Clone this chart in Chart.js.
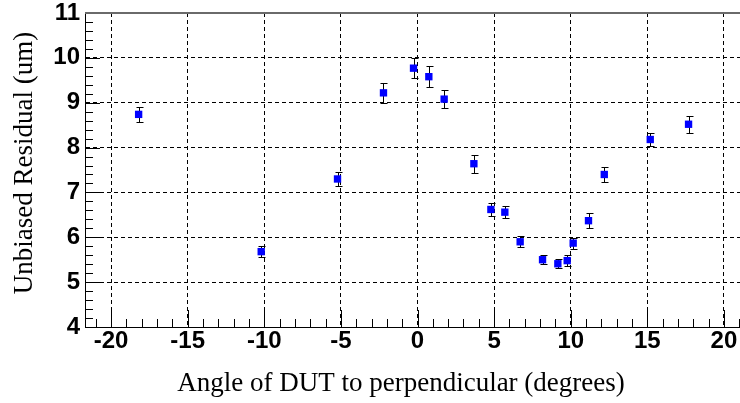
<!DOCTYPE html>
<html><head><meta charset="utf-8">
<script src="https://cdn.jsdelivr.net/npm/chart.js@4"></script>
<style>html,body{margin:0;padding:0;overflow:hidden;background:#fff;width:740px;height:403px}canvas{display:block}</style>
</head><body><canvas id="c" width="750" height="403"></canvas>
<script>
const angles    = [-18.2, -10.2, -5.22, -2.22, -0.26, 0.74, 1.74, 3.68, 4.79, 5.70, 6.70, 8.16, 9.16, 9.77, 10.16, 11.16, 12.19, 15.19, 17.69];
const residuals = [8.74, 5.68, 7.30, 9.22, 9.77, 9.58, 9.08, 7.64, 6.62, 6.56, 5.90, 5.50, 5.41, 5.48, 5.87, 6.37, 7.40, 8.18, 8.52];
const errors    = [0.17, 0.12, 0.16, 0.22, 0.23, 0.23, 0.20, 0.20, 0.14, 0.13, 0.12, 0.10, 0.10, 0.12, 0.12, 0.17, 0.16, 0.15, 0.19];
const xTicks = [-20, -15, -10, -5, 0, 5, 10, 15, 20];
const yTicks = [4, 5, 6, 7, 8, 9, 10, 11];
const xTitle = "Angle of DUT to perpendicular (degrees)";
const yTitle = "Unbiased Residual (um)";

const tickFont = {family: "'Liberation Sans', Arial, sans-serif", size: 24, weight: 'bold'};
const titleFont = "27px 'Liberation Serif', 'Times New Roman', serif";

const framePlugin = {
  id: 'frame',
  beforeDatasetsDraw(chart) {
    const {ctx, scales: {x, y}} = chart;
    ctx.save();
    ctx.strokeStyle = '#000';
    ctx.lineWidth = 1;
    angles.forEach((a, i) => {
      const px = Math.round(x.getPixelForValue(a)) + 0.5;
      const y1 = Math.round(y.getPixelForValue(residuals[i] - errors[i])) + 0.5;
      const y2 = Math.round(y.getPixelForValue(residuals[i] + errors[i])) + 0.5;
      ctx.beginPath();
      ctx.moveTo(px, y1); ctx.lineTo(px, y2);
      ctx.moveTo(px - 3, y1); ctx.lineTo(px + 4, y1);
      ctx.moveTo(px - 3, y2); ctx.lineTo(px + 4, y2);
      ctx.stroke();
    });
    ctx.restore();
  },
  afterDraw(chart) {
    const {ctx, chartArea: a, scales: {x, y}} = chart;
    ctx.save();
    ctx.strokeStyle = '#000';
    ctx.lineWidth = 1;
    ctx.beginPath();
    for (let v = -21; v <= 21; v++) {
      const px = Math.round(x.getPixelForValue(v)) + 0.5;
      const len = (v % 5 === 0) ? 17 : 8;
      ctx.moveTo(px, a.bottom); ctx.lineTo(px, a.bottom - len);
    }
    for (let k = 20; k <= 55; k++) {
      const py = Math.round(y.getPixelForValue(k / 5)) + 0.5;
      const len = (k % 5 === 0) ? 15 : 8;
      ctx.moveTo(a.left, py); ctx.lineTo(a.left + len, py);
    }
    ctx.stroke();
    ctx.strokeStyle = '#6a6a6a';
    ctx.lineWidth = 2;
    ctx.beginPath();
    ctx.moveTo(a.left, a.top); ctx.lineTo(a.right, a.top);
    ctx.stroke();
    ctx.fillStyle = '#000';
    ctx.font = titleFont;
    ctx.textAlign = 'center';
    ctx.textBaseline = 'middle';
    ctx.fillText(xTitle, 401, 384);
    ctx.translate(25, 163);
    ctx.rotate(-Math.PI / 2);
    ctx.fillText(yTitle, 0, 0);
    ctx.restore();
  }
};

new Chart(document.getElementById('c'), {
  type: 'scatter',
  data: {
    datasets: [{
      data: angles.map((a, i) => ({x: a, y: residuals[i]})),
      pointStyle: 'rect',
      radius: 5.2,
      backgroundColor: '#0000ff',
      borderColor: '#0000ff',
      borderWidth: 0
    }]
  },
  options: {
    responsive: false,
    animation: false,
    devicePixelRatio: 1,
    layout: {autoPadding: false, padding: {top: 13, left: 0, right: 0, bottom: 0}},
    plugins: {legend: {display: false}, tooltip: {enabled: false}},
    scales: {
      x: {
        type: 'linear', min: -21.7, max: 21.7,
        afterBuildTicks: s => { s.ticks = xTicks.map(v => ({value: v})); },
        afterFit: s => { s.height = 76; s.paddingLeft = 0; s.paddingRight = 0; },
        ticks: {font: tickFont, color: '#000', padding: 0, callback: v => String(v), maxRotation: 0, autoSkip: false},
        grid: {color: '#000', lineWidth: 1, drawTicks: false},
        border: {display: true, color: '#000', width: 1, dash: [4, 3]}
      },
      y: {
        type: 'linear', min: 4, max: 11,
        afterBuildTicks: s => { s.ticks = yTicks.map(v => ({value: v})); },
        afterFit: s => { s.width = 85; s.paddingTop = 0; s.paddingBottom = 0; },
        ticks: {font: tickFont, color: '#000', padding: 5, callback: v => String(v), autoSkip: false},
        grid: {color: c => (c.tick && (c.tick.value === 4 || c.tick.value === 11)) ? 'rgba(0,0,0,0)' : '#000', lineWidth: 1, drawTicks: false},
        border: {display: true, color: '#000', width: 1, dash: [4, 3]}
      }
    }
  },
  plugins: [framePlugin]
});
</script>
</body></html>
